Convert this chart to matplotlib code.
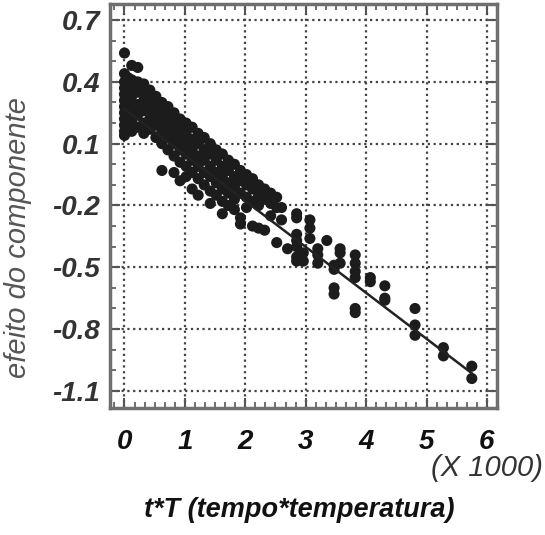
import matplotlib
matplotlib.use("Agg")
import matplotlib.pyplot as plt
import numpy as np
from matplotlib.ticker import AutoMinorLocator

plt.rcParams['font.family'] = ['Liberation Sans', 'DejaVu Sans']

# t*T values (x 1000), one entry per group of stacked points
t_T = [0.00, 0.06, 0.12, 0.22, 0.32, 0.42, 0.52, 0.62, 0.72, 0.82,
       0.92, 1.02, 1.12, 1.22, 1.32, 1.42, 1.52, 1.62, 1.72, 1.82,
       1.92, 2.02, 2.12, 2.22, 2.32, 2.42, 2.52, 2.60, 2.70, 2.85,
       2.96, 3.07, 3.20, 3.35, 3.47, 3.57, 3.82, 4.07, 4.31, 4.81,
       5.28, 5.75]

# efeito do componente observed at each t*T
efeito = [
    [0.54, 0.44, 0.40, 0.37, 0.34, 0.31, 0.28, 0.25, 0.22, 0.19, 0.16, 0.14],
    [0.42, 0.36, 0.30, 0.24, 0.18],
    [0.48, 0.41, 0.38, 0.33, 0.27, 0.21, 0.16],
    [0.47, 0.40, 0.35, 0.29, 0.24, 0.18],
    [0.39, 0.34, 0.31, 0.26, 0.20, 0.15],
    [0.36, 0.31, 0.27, 0.22, 0.17],
    [0.33, 0.29, 0.24, 0.19, 0.13],
    [0.30, 0.26, 0.21, 0.16, 0.10, -0.03],
    [0.28, 0.23, 0.18, 0.13, 0.07],
    [0.25, 0.20, 0.15, 0.10, 0.04, -0.04],
    [0.22, 0.17, 0.12, 0.07, 0.01, -0.08],
    [0.20, 0.15, 0.10, 0.05, -0.01, -0.06],
    [0.18, 0.12, 0.07, 0.02, -0.04, -0.12],
    [0.15, 0.10, 0.04, -0.01, -0.07, -0.15],
    [0.13, 0.07, 0.02, -0.04, -0.10],
    [0.10, 0.05, -0.01, -0.06, -0.13, -0.19],
    [0.07, 0.02, -0.04, -0.09, -0.15],
    [0.05, -0.01, -0.06, -0.12, -0.18, -0.24],
    [0.02, -0.03, -0.09, -0.14, -0.20],
    [0.00, -0.06, -0.11, -0.17, -0.22],
    [-0.03, -0.08, -0.14, -0.26, -0.29],
    [-0.05, -0.10, -0.16, -0.21],
    [-0.07, -0.12, -0.18, -0.30],
    [-0.10, -0.15, -0.20, -0.31],
    [-0.12, -0.17, -0.32],
    [-0.14, -0.19, -0.25],
    [-0.16, -0.21, -0.38],
    [-0.21, -0.27],
    [-0.41],
    [-0.24, -0.26, -0.34, -0.37, -0.40, -0.45, -0.47],
    [-0.43, -0.47],
    [-0.27, -0.31, -0.36],
    [-0.41, -0.44, -0.48],
    [-0.37],
    [-0.49, -0.51, -0.60, -0.63],
    [-0.41, -0.43, -0.48],
    [-0.44, -0.48, -0.52, -0.55, -0.70, -0.72],
    [-0.55, -0.57],
    [-0.59, -0.65, -0.66],
    [-0.70, -0.78, -0.83],
    [-0.89, -0.93],
    [-0.98, -1.04],
]

# fitted straight line
fit_intercept = 0.268
fit_slope = -0.223
fit_range = [0.0, 5.75]

x_ticks = [0, 1, 2, 3, 4, 5, 6]
y_ticks = [0.7, 0.4, 0.1, -0.2, -0.5, -0.8, -1.1]

xs = np.concatenate([[t] * len(v) for t, v in zip(t_T, efeito)])
ys = np.concatenate(efeito)

fig = plt.figure(figsize=(5.45, 5.35), dpi=100)
ax = fig.add_axes([0.2018, 0.2374, 0.7110, 0.7551])

ax.scatter(xs, ys, s=64, color='#1c1c1c', edgecolors='none', zorder=3)
fx = np.array(fit_range)
ax.plot(fx, fit_intercept + fit_slope * fx, color='#222222', lw=1.8, zorder=4)

ax.set_xlim(-0.24, 6.175)
ax.set_ylim(-1.183, 0.778)
ax.set_xticks(x_ticks)
ax.set_yticks(y_ticks)
ax.set_xticklabels(['0', '1', '2', '3', '4', '5', '6'])
ax.set_yticklabels(['0.7', '0.4', '0.1', '-0.2', '-0.5', '-0.8', '-1.1'])
ax.xaxis.set_minor_locator(AutoMinorLocator(6))
ax.yaxis.set_minor_locator(AutoMinorLocator(3))

ax.grid(True, which='major', color='#444444', linestyle=(0, (1, 1.6)), linewidth=1.6)
ax.set_axisbelow(True)

ax.tick_params(which='both', direction='in', top=True, right=True, color='#555555')
ax.tick_params(which='major', length=7, width=1.5)
ax.tick_params(which='minor', length=4, width=1.2)
ax.tick_params(axis='x', pad=15, labelsize=20, labelcolor='#111111')
ax.tick_params(axis='y', pad=7, labelsize=20, labelcolor='#333333')
for lab in ax.get_xticklabels() + ax.get_yticklabels():
    lab.set_fontweight('bold')
    lab.set_fontstyle('italic')

for sp in ax.spines.values():
    sp.set_color('#6f6f6f')
    sp.set_linewidth(2.5)

fig.text(0.997, 0.125, '(X 1000)', ha='right', va='center', fontsize=21,
         style='italic', color='#333333')
fig.text(0.55, 0.047, 't*T (tempo*temperatura)', ha='center', va='center',
         fontsize=19.5, style='italic', fontweight='bold', color='#111111')
fig.text(0.033, 0.557, 'efeito do componente', ha='center', va='center',
         rotation=90, fontsize=21, style='italic', color='#555555')

fig.savefig('out.png', dpi=100)
